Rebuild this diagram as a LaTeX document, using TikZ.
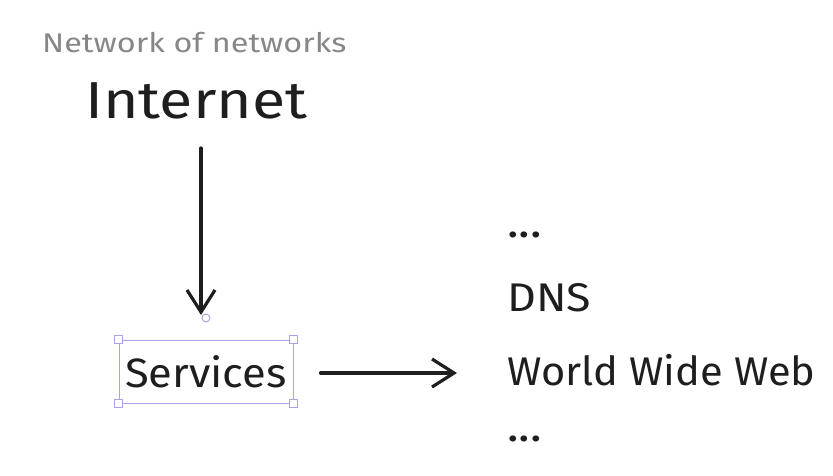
\documentclass[tikz,border=0pt]{standalone}
\usepackage{fontspec}
\setmainfont{Fira Sans}
\usetikzlibrary{arrows.meta,positioning}
\definecolor{ink}{RGB}{30,30,30}
\definecolor{note}{RGB}{135,135,135}
\definecolor{select}{RGB}{168,163,228}
\newcommand{\handsize}[2]{\fontsize{#1}{#1}\selectfont\addfontfeature{FakeStretch=#2}}

\begin{document}
\begin{tikzpicture}[x=1pt,y=-1pt]
  \tikzstyle{label} = [inner sep=0pt, anchor=base west, text=ink]
  \tikzstyle{selbox} = [rectangle, draw=select, line width=1pt, inner sep=0pt, text=ink,
  minimum width=174pt, minimum height=63pt]
  \tikzstyle{handle} = [rectangle, draw=select, fill=white, line width=1pt, inner sep=0pt, minimum size=8pt]
  \tikzstyle{bindpt} = [circle, draw=select, fill=white, line width=1pt, inner sep=0pt, minimum size=8pt]
  \tikzstyle{arrow} = [draw=ink, line width=3.2pt, line cap=round,
  -{Straight Barb[length=22pt,width=28pt,line width=3.2pt]}]
\useasboundingbox (0,0) rectangle (833,475);
\node [label, text=note, font=\handsize{27}{1.2}] (nets) at (42,52) {Network of networks};
\node [label, font=\handsize{52}{1.17}] (inet) at (85,118) {Internet};
\node [selbox, font=\handsize{41}{1.06}] (svc) at (206,371.5) {Services};
\node [bindpt] (bind) at (206,318) {};
\coordinate (drop) at (201,148);
\node [label, font=\handsize{44}{1.1}] (dots1) at (507,237) {...};
\node [label, font=\handsize{40}{1.12}] (dns) at (507,311) {DNS};
\node [label, font=\handsize{40}{1.04}] (www) at (507,385) {World Wide Web};
\node [label, font=\handsize{44}{1.1}] (dots2) at (507,441) {...};
\foreach \c in {north west,north east,south west,south east}
  \node [handle] at (svc.\c) {};
\path [arrow] (drop) -- ([shift={(-5,-3)}]bind.center);
\path [arrow] ([shift={(27,1.5)}]svc.east) -- ([shift={(-50,-12)}]www.base west);
\end{tikzpicture}
\end{document}
